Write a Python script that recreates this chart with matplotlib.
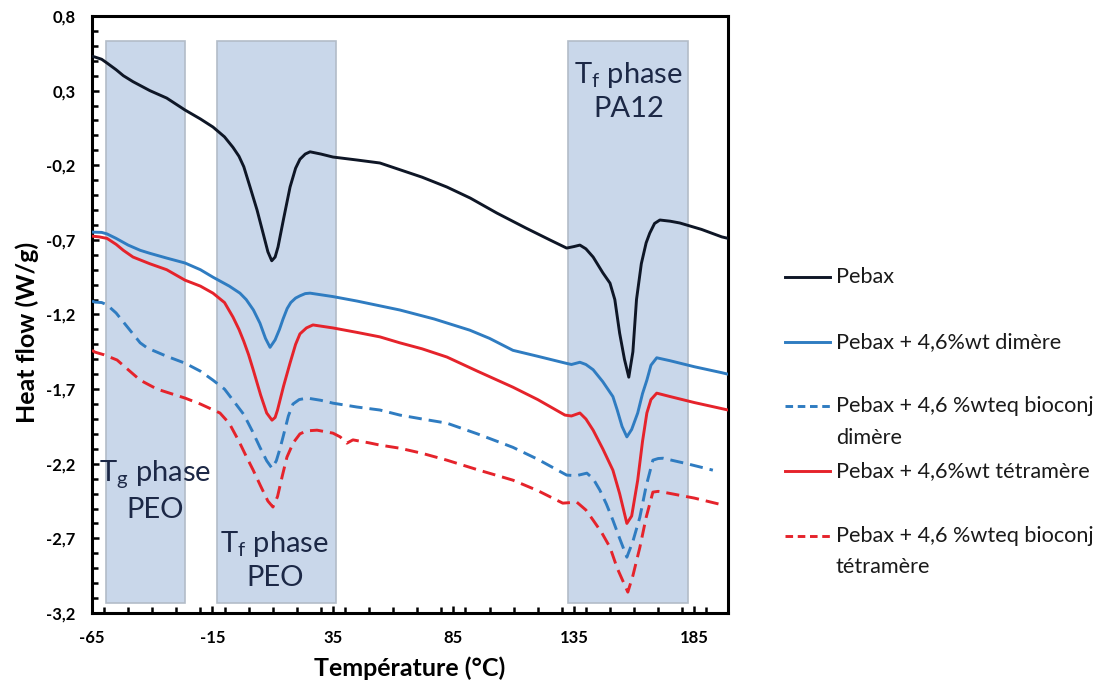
import matplotlib
matplotlib.use("Agg")
import matplotlib.pyplot as plt
from matplotlib.lines import Line2D
from matplotlib.patches import Rectangle
from matplotlib.ticker import MultipleLocator, FixedLocator

plt.rcParams['font.family'] = ['Lato', 'DejaVu Sans']
plt.rcParams['mathtext.fontset'] = 'custom'
plt.rcParams['mathtext.rm'] = 'Lato'

# DSC curves (temperature in °C, heat flow in W/g)
t_pebax = [-65, -63.8, -61, -58.8, -55, -52, -48, -41, -34, -26.4, -20, -14.8, -10, -6.5, -4, -2, 0.6,
           3.5, 6, 8, 9.6, 11, 12.2, 14.5, 17.2, 19.5, 21.3, 23.5, 25.5, 30, 35, 45, 54.5, 62.8, 72,
           82.3, 92, 103, 115, 125, 132, 135, 137.5, 140, 143, 147, 150, 152, 154, 156, 157.8, 159.5,
           161, 163, 165, 166.5, 168.5, 170.7, 175, 179, 188, 196.4, 199]
v_pebax = [0.53, 0.525, 0.51, 0.485, 0.44, 0.40, 0.36, 0.30, 0.25, 0.17, 0.11, 0.056, -0.01, -0.08,
           -0.14, -0.21, -0.346, -0.5, -0.655, -0.78, -0.84, -0.815, -0.748, -0.56, -0.346, -0.22, -0.16,
           -0.125, -0.11, -0.125, -0.145, -0.165, -0.185, -0.23, -0.28, -0.346, -0.42, -0.52, -0.62,
           -0.70, -0.755, -0.745, -0.735, -0.76, -0.815, -0.92, -0.99, -1.10, -1.325, -1.50, -1.62,
           -1.45, -1.10, -0.86, -0.72, -0.655, -0.59, -0.567, -0.575, -0.587, -0.63, -0.68, -0.69]

t_dim = [-65, -61, -58.8, -55, -50, -45, -41, -34, -26.4, -20, -14.8, -8, -3.6, -1, 2, 4.7, 7, 8.9, 11,
         12.8, 14.3, 16, 17.5, 19.5, 21.3, 23.5, 25.5, 35, 45, 62.8, 77, 91.8, 100, 109.7, 120, 131.3,
         134, 137.5, 140, 143, 147, 151.2, 153, 155, 157, 159, 161.5, 163.5, 165.3, 167, 169.4, 175,
         185, 196.4, 199]
v_dim = [-0.648, -0.650, -0.66, -0.69, -0.735, -0.77, -0.79, -0.822, -0.855, -0.90, -0.95, -1.01,
         -1.057, -1.10, -1.17, -1.258, -1.36, -1.42, -1.37, -1.30, -1.23, -1.16, -1.12, -1.09, -1.075,
         -1.06, -1.057, -1.08, -1.11, -1.17, -1.23, -1.305, -1.36, -1.44, -1.48, -1.525, -1.535,
         -1.52, -1.535, -1.57, -1.65, -1.75, -1.84, -1.95, -2.02, -1.97, -1.86, -1.73, -1.64, -1.54,
         -1.49, -1.51, -1.55, -1.59, -1.60]

t_dim_bio = [-65, -63.8, -61, -58.8, -55, -52, -48, -45, -42, -34, -26.4, -20, -14.8, -10, -6.5, -2,
             1.5, 4.7, 7.5, 9.7, 11.5, 13, 14.3, 16.5, 18.4, 21, 24.3, 30, 35, 45, 54.5, 62.8, 72, 82.3,
             95, 109.7, 120, 132, 136, 140.4, 143, 145.8, 148.5, 151.2, 154, 157, 159.5, 162.4, 165,
             167.8, 170, 172, 182, 192.7]
v_dim_bio = [-1.11, -1.117, -1.12, -1.135, -1.19, -1.25, -1.33, -1.39, -1.425, -1.48, -1.526, -1.58,
             -1.64, -1.70, -1.774, -1.87, -1.98, -2.09, -2.18, -2.23, -2.18, -2.10, -2.02, -1.88,
             -1.80, -1.77, -1.76, -1.775, -1.794, -1.82, -1.84, -1.874, -1.90, -1.928, -2.0, -2.09,
             -2.17, -2.276, -2.28, -2.263, -2.30, -2.377, -2.47, -2.578, -2.70, -2.826, -2.72,
             -2.558, -2.35, -2.176, -2.165, -2.163, -2.20, -2.243]

t_tet = [-65, -62, -58.8, -55, -52, -48, -41, -34, -26.4, -20, -14.8, -10, -6.5, -4, -2, 0, 1.9, 5,
         7.5, 9.7, 11, 12, 14.5, 17.2, 19.5, 21.3, 24, 26.7, 35, 45, 54.5, 62.8, 72, 82.3, 95, 109.7,
         120, 131.3, 134, 137.5, 140, 143, 147, 151.2, 154, 157, 159, 161.5, 163.5, 165.3, 167, 169.4,
         175, 185, 199]
v_tet = [-0.675, -0.68, -0.69, -0.73, -0.77, -0.815, -0.86, -0.90, -0.97, -1.01, -1.057, -1.12, -1.217,
         -1.30, -1.38, -1.47, -1.57, -1.74, -1.86, -1.908, -1.89, -1.84, -1.68, -1.525, -1.40, -1.33,
         -1.29, -1.27, -1.29, -1.32, -1.35, -1.39, -1.43, -1.485, -1.58, -1.687, -1.77, -1.874, -1.88,
         -1.86, -1.90, -1.975, -2.10, -2.243, -2.40, -2.60, -2.55, -2.31, -2.05, -1.86, -1.77, -1.727,
         -1.75, -1.79, -1.84]

t_tet_bio = [-65, -63.8, -60, -54.6, -50, -45, -38, -26.4, -20, -11.9, -8, -4, -1, 1.9, 5, 8, 10.1, 12,
             14, 15.9, 18.5, 21.3, 24, 28.4, 35, 38, 40.8, 43.3, 50, 54.5, 62.8, 72, 82.3, 95, 109.7,
             120, 130.4, 136.2, 140, 143, 146.5, 150, 153, 157.4, 159.5, 162.4, 165, 167.8, 170, 172,
             185, 197]
v_tet_bio = [-1.44, -1.452, -1.47, -1.505, -1.57, -1.64, -1.70, -1.76, -1.80, -1.86, -1.93, -2.05,
             -2.15, -2.243, -2.35, -2.45, -2.49, -2.42, -2.28, -2.156, -2.06, -2.0, -1.98, -1.975,
             -1.995, -2.02, -2.062, -2.04, -2.06, -2.075, -2.096, -2.13, -2.176, -2.24, -2.31, -2.38,
             -2.464, -2.457, -2.51, -2.578, -2.66, -2.76, -2.90, -3.06, -2.95, -2.76, -2.56, -2.39,
             -2.385, -2.39, -2.43, -2.477]

labels = ["Pebax",
          "Pebax + 4,6%wt dimère",
          "Pebax + 4,6 %wteq bioconj\ndimère",
          "Pebax + 4,6%wt tétramère",
          "Pebax + 4,6 %wteq bioconj\ntétramère"]

# shaded transition zones (T start, T end) and their captions
zones = [(-59.2, -26.4), (-13.1, 36.2), (132.5, 182.3)]
zone_top, zone_bottom = 0.632, -3.134
zone_texts = ["T$_\\mathregular{g}$ phase\nPEO", "T$_\\mathregular{f}$ phase\nPEO", "T$_\\mathregular{f}$ phase\nPA12"]
zone_text_pos = [(-38.9, -2.38), (10.9, -2.846), (157.8, 0.297)]

x_ticks = [-65, -15, 35, 85, 135, 185]
y_ticks = [0.8, 0.3, -0.2, -0.7, -1.2, -1.7, -2.2, -2.7, -3.2]

black = "#0e1626"
blue = "#2f7cc1"
red = "#e5232b"

fig = plt.figure(figsize=(11.1, 6.89), dpi=100)
ax = fig.add_axes([0.0829, 0.1103, 0.5730, 0.8665])

for (a, b) in zones:
    ax.add_patch(Rectangle((a, zone_bottom), b - a, zone_top - zone_bottom,
                           facecolor="#c9d7ea", edgecolor="#b3bcc8", lw=1.2, zorder=1))
for txt, (tx, ty) in zip(zone_texts, zone_text_pos):
    ax.text(tx, ty, txt, ha="center", va="center", fontsize=21, color="#1c2846",
            linespacing=1.3, zorder=2)

lw = 2.1
ds = (4.5, 2.4)
series = [(t_pebax, v_pebax, black, "-"), (t_dim, v_dim, blue, "-"), (t_dim_bio, v_dim_bio, blue, "--"),
          (t_tet, v_tet, red, "-"), (t_tet_bio, v_tet_bio, red, "--")]
for t, v, c, ls in series:
    ln, = ax.plot(t, v, color=c, lw=lw, ls=ls, zorder=3, solid_joinstyle="round")
    if ls == "--":
        ln.set_dashes(ds)

ax.set_xlim(-65, 199)
ax.set_ylim(-3.2, 0.8)
ax.xaxis.set_major_locator(FixedLocator(x_ticks))
ax.xaxis.set_minor_locator(MultipleLocator(10))
ax.yaxis.set_major_locator(FixedLocator(y_ticks))
ax.yaxis.set_minor_locator(MultipleLocator(0.1))
ax.set_xticklabels([str(x) for x in x_ticks], fontweight="bold", fontsize=12)
ax.set_yticklabels([f"{y:.1f}".replace(".", ",") for y in y_ticks], fontweight="bold", fontsize=12)
ax.tick_params(which="both", direction="in", width=1.8, color="black")
ax.tick_params(which="major", length=5)
ax.tick_params(which="minor", length=4)
ax.tick_params(axis="y", pad=12)
ax.tick_params(axis="x", pad=12)
for s in ax.spines.values():
    s.set_linewidth(2.2)
    s.set_color("black")

ax.set_xlabel("Température (°C)", fontsize=18, fontweight="bold")
ax.set_ylabel("Heat flow (W/g)", fontsize=18, fontweight="bold")
ax.xaxis.set_label_coords(0.5, -0.072)
ax.yaxis.set_label_coords(-0.083, 0.47)

# legend drawn by hand so the handle sits on the first text line
H = 689.0
row0, row_step, line_step = 277, 64.7, 31.5
for i, ((t, v, c, ls), lab) in enumerate(zip(series, labels)):
    yp = row0 + i * row_step
    yf = 1 - yp / H
    ln = Line2D([785 / 1110, 830 / 1110], [yf, yf], transform=fig.transFigure, color=c, lw=lw, ls=ls)
    if ls == "--":
        ln.set_dashes((2.6, 1.6))
    fig.add_artist(ln)
    for j, part in enumerate(lab.split("\n")):
        fig.text(836 / 1110, 1 - (yp + j * line_step) / H, part, fontsize=15.6, va="center", ha="left",
                 color="#1a1a1a")

fig.savefig("out.png", dpi=100)
